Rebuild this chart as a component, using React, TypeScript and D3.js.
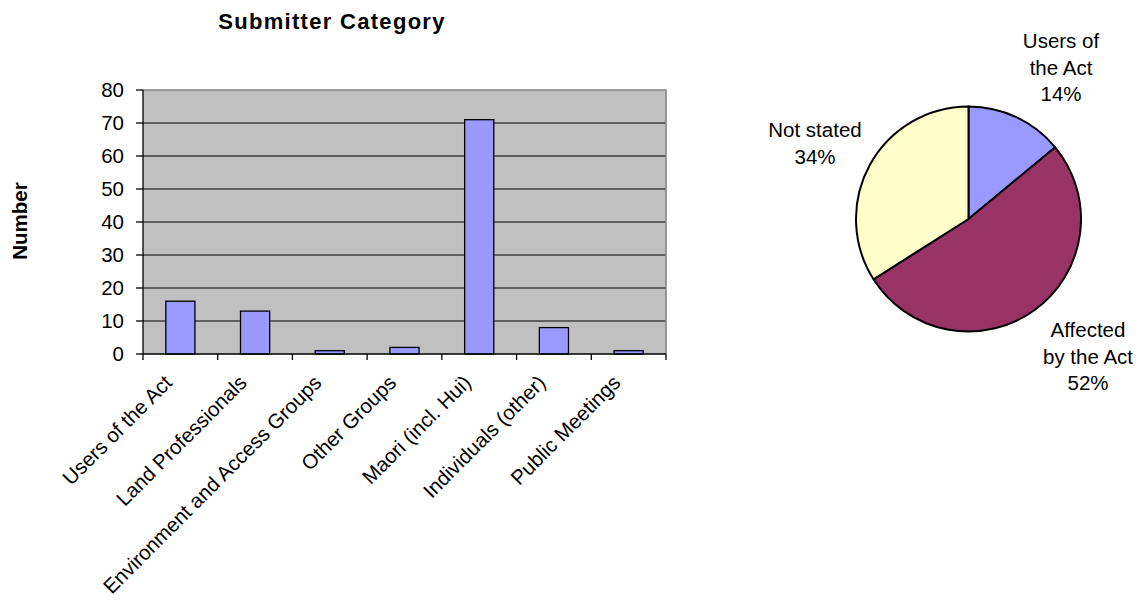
import React from "react";
import * as d3 from "d3";

// Submissions by category (bar chart)
const categories = [
  "Users of the Act",
  "Land Professionals",
  "Environment and Access Groups",
  "Other Groups",
  "Maori (incl. Hui)",
  "Individuals (other)",
  "Public Meetings",
];
const counts = [16, 13, 1, 2, 71, 8, 1];
const yTicks = [0, 10, 20, 30, 40, 50, 60, 70, 80];

// Share of submitters (pie chart)
const pieLabels = [["Users of", "the Act"], ["Affected", "by the Act"], ["Not stated"]];
const pieShares = [14, 52, 34];
const pieColors = ["#9999FF", "#993366", "#FFFFCC"];

const W = 1138;
const H = 601;
const FONT = "'Liberation Sans', Arial, Helvetica, sans-serif";
const FS = 20.5;

export default function App() {
  const plot = { left: 143, right: 666, top: 90, bottom: 354 };

  const x = d3
    .scaleBand<string>()
    .domain(categories)
    .range([plot.left, plot.right])
    .paddingInner(0.61)
    .paddingOuter(0.305);
  const step = x.step();
  const y = d3.scaleLinear().domain([0, 80]).range([plot.bottom, plot.top]);

  // category boundaries for tick marks
  const boundaries = d3.range(categories.length + 1).map((i) => plot.left + i * step);

  // pie geometry
  const cx = 968.5;
  const cy = 219;
  const r = 112.5;
  const pie = d3.pie<number>().sort(null).value((d) => d);
  const arcs = pie(pieShares);
  const arcGen = d3.arc<d3.PieArcDatum<number>>().innerRadius(0).outerRadius(r);

  const pieLabelPos = [
    { x: 1061, y: 48 },
    { x: 1088, y: 337 },
    { x: 815, y: 137 },
  ];
  const lineH = 26.5;

  return (
    <svg
      width={W}
      height={H}
      style={{ position: "absolute", left: 0, top: 0, background: "#fff" }}
      fontFamily={FONT}
    >
      {/* title */}
      <text
        x={332}
        y={28.5}
        textAnchor="middle"
        fontSize={22}
        fontWeight="bold"
        letterSpacing={1.3}
      >
        Submitter Category
      </text>

      {/* plot area */}
      <rect
        x={plot.left}
        y={plot.top}
        width={plot.right - plot.left}
        height={plot.bottom - plot.top}
        fill="#C0C0C0"
      />
      {yTicks
        .filter((t) => t > 0 && t < 80)
        .map((t) => (
          <line
            key={t}
            x1={plot.left}
            x2={plot.right}
            y1={y(t)}
            y2={y(t)}
            stroke="#000"
            strokeWidth={1}
          />
        ))}
      {/* top and right border */}
      <path
        d={`M${plot.left},${plot.top}H${plot.right}V${plot.bottom}`}
        fill="none"
        stroke="#808080"
        strokeWidth={1.5}
      />

      {/* bars */}
      {categories.map((c, i) => (
        <rect
          key={c}
          x={x(c)}
          y={y(counts[i])}
          width={x.bandwidth()}
          height={y(0) - y(counts[i])}
          fill="#9999FF"
          stroke="#000"
          strokeWidth={1.3}
        />
      ))}

      {/* y axis */}
      <line x1={plot.left} x2={plot.left} y1={plot.top} y2={plot.bottom} stroke="#000" strokeWidth={1.3} />
      {yTicks.map((t) => (
        <g key={t}>
          <line x1={plot.left - 7} x2={plot.left} y1={y(t)} y2={y(t)} stroke="#000" strokeWidth={1.3} />
          <text x={plot.left - 19} y={y(t)} dy="0.36em" textAnchor="end" fontSize={FS}>
            {t}
          </text>
        </g>
      ))}

      {/* x axis */}
      <line x1={plot.left} x2={plot.right} y1={plot.bottom} y2={plot.bottom} stroke="#000" strokeWidth={1.3} />
      {boundaries.map((bx, i) => (
        <line key={i} x1={bx} x2={bx} y1={plot.bottom} y2={plot.bottom + 6} stroke="#000" strokeWidth={1.3} />
      ))}
      {categories.map((c) => {
        const mx = (x(c) as number) + x.bandwidth() / 2;
        return (
          <text
            key={c}
            transform={`translate(${mx - 7},${plot.bottom + 30}) rotate(-45)`}
            textAnchor="end"
            fontSize={FS}
          >
            {c}
          </text>
        );
      })}

      {/* y axis title */}
      <text
        transform={`translate(20,221) rotate(-90)`}
        textAnchor="middle"
        dy="0.36em"
        fontSize={FS}
        fontWeight="bold"
      >
        Number
      </text>

      {/* pie */}
      <g transform={`translate(${cx},${cy})`}>
        {arcs.map((a, i) => (
          <path key={i} d={arcGen(a) || ""} fill={pieColors[i]} stroke="#000" strokeWidth={2} strokeLinejoin="round" />
        ))}
      </g>
      {pieLabels.map((lines, i) => {
        const p = pieLabelPos[i];
        const all = [...lines, `${pieShares[i]}%`];
        return (
          <text key={i} x={p.x} y={p.y} textAnchor="middle" fontSize={FS}>
            {all.map((l, j) => (
              <tspan key={j} x={p.x} y={p.y + j * lineH}>
                {l}
              </tspan>
            ))}
          </text>
        );
      })}
    </svg>
  );
}
